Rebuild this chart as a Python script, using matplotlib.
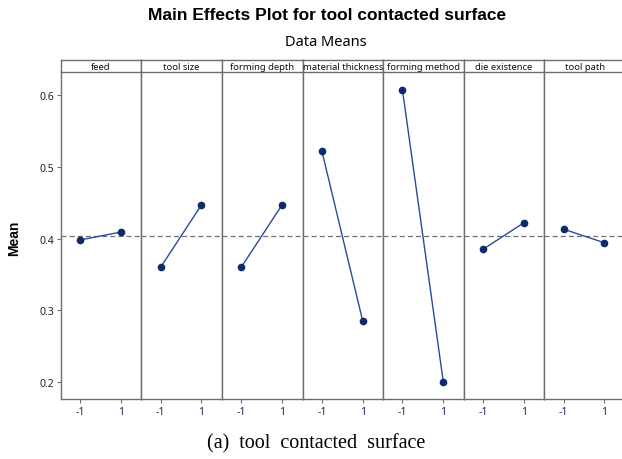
import numpy as np
import matplotlib
matplotlib.use("Agg")
import matplotlib.pyplot as plt

# main effects data (means at level -1 and 1)
factors = ["feed", "tool size", "forming depth", "material thickness",
           "forming method", "die existence", "tool path"]
levels = [-1, 1]
mean_low = [0.398, 0.360, 0.360, 0.522, 0.607, 0.385, 0.413]
mean_high = [0.409, 0.447, 0.447, 0.285, 0.200, 0.422, 0.394]
grand_mean = np.mean(mean_low + mean_high)
yticks = [0.2, 0.3, 0.4, 0.5, 0.6]

W, H = 622, 460
fig = plt.figure(figsize=(W / 100, H / 100), dpi=100)

frame = "#6e6e6e"
line_c = "#2a4a9a"
dot_c = "#0d2a6b"
font = ["Noto Sans", "DejaVu Sans"]
bold_font = ["Liberation Sans", "DejaVu Sans"]

left_px, panel_w = 60.7, 80.6
top_px, bottom_px = 73.3, 400
strip_top = 61

for i, name in enumerate(factors):
    x0 = (left_px + i * panel_w) / W
    ax = fig.add_axes([x0, (H - bottom_px) / H, panel_w / W, (bottom_px - top_px) / H])
    ax.plot(levels, [mean_low[i], mean_high[i]], color=line_c, lw=1.0, zorder=3)
    ax.plot(levels, [mean_low[i], mean_high[i]], "o", color=dot_c, ms=4.5, zorder=4)
    ax.axhline(grand_mean, color="#707070", lw=0.9, ls=(0, (4, 2.5)), zorder=1)
    ax.set_xlim(-1.95, 2.0)
    ax.set_ylim(0.176, 0.632)
    ax.set_xticks(levels)
    ax.set_xticklabels(["-1", "1"], fontsize=7.5, family=font)
    ax.set_yticks(yticks)
    ax.tick_params(axis="both", direction="out", length=3, width=0.8, colors=frame,
                   labelcolor="#1c2c5c", pad=2)
    if i == 0:
        ax.set_yticklabels(["%.1f" % v for v in yticks], fontsize=7.5, family=font)
        ax.tick_params(axis="y", labelcolor="#222222")
    else:
        ax.tick_params(axis="y", left=False, labelleft=False)
    for s in ax.spines.values():
        s.set_color(frame)
        s.set_linewidth(1.0)
    ax.spines["top"].set_visible(False)

    # strip header
    sax = fig.add_axes([x0, (H - top_px) / H, panel_w / W, (top_px - strip_top) / H])
    sax.set_xticks([])
    sax.set_yticks([])
    for s in sax.spines.values():
        s.set_color(frame)
        s.set_linewidth(1.0)
    sax.text(0.5, 0.45, name, ha="center", va="center", fontsize=6.8,
             color="#111111", family=font, transform=sax.transAxes)

fig.text(14 / W, 1 - 238 / H, "Mean", rotation=90, ha="center", va="center",
         fontsize=10, fontweight="bold", family=bold_font)
fig.text(327 / W, 1 - 16 / H, "Main Effects Plot for tool contacted surface",
         ha="center", va="center", fontsize=12.5, fontweight="bold", family=bold_font)
fig.text(326 / W, 1 - 42 / H, "Data Means", ha="center", va="center",
         fontsize=10.5, family=font)
fig.text(316 / W, 1 - 444 / H, "(a)  tool  contacted  surface", ha="center",
         va="center", fontsize=14.5, family="Liberation Serif")

fig.savefig("out.png", dpi=100)
